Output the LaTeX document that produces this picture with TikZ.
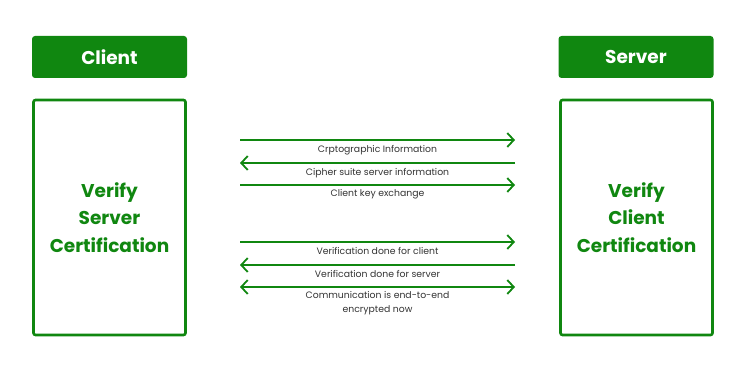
\documentclass[tikz,border=0pt]{standalone}
\usepackage{fontspec}
\setmainfont{Poppins}
\usepackage{tikz}
\usetikzlibrary{positioning, arrows.meta, calc}
\definecolor{primary}{RGB}{16,135,16}
\tikzset{
  header/.style={
    rectangle, rounded corners=3pt, fill=primary, draw=none,
    minimum width=155pt, minimum height=42pt, inner sep=0pt,
    text=white, font=\fontsize{18.5}{22}\selectfont\bfseries
  },
  party/.style={
    rectangle, rounded corners=2pt, draw=primary, line width=2.6pt, fill=white,
    minimum width=152pt, minimum height=235pt, inner sep=0pt,
    align=center, text=primary, font=\fontsize{18.5}{27.5}\selectfont\bfseries
  },
  tip/.tip={Straight Barb[length=6.5pt,width=14pt,line width=1.8pt]},
  msg/.style={draw=primary, line width=1.8pt, -tip},
  both/.style={draw=primary, line width=1.8pt, tip-tip},
  msg label/.style={font=\fontsize{9.3}{14}\selectfont, text=black!80, inner sep=0pt, align=center, below=4pt},
}
\begin{document}
\begin{tikzpicture}[x=1pt, y=-1pt]
  \useasboundingbox (0,0) rectangle (735,377);

  % parties
  \node[header] (client) at (109.5,57) {Client};
  \node[header] (server) at (636,57) {Server};
  \node[party] (clientbox) at (109.5,217.5) {Verify\\Server\\Certification};
  \node[party] (serverbox) at (636.5,217.5) {Verify\\Client\\Certification};

  % end points of the messages
  \foreach \i/\y in {1/140, 2/163, 3/185, 4/242, 5/265, 6/287} {
    \coordinate (L\i) at (240,\y);
    \coordinate (R\i) at (515,\y);
  }

  % handshake
  \draw[msg] (L1) -- node[msg label] {Crptographic Information} (R1);
  \draw[msg] (R2) -- node[msg label] {Cipher suite server information} (L2);
  \draw[msg] (L3) -- node[msg label] {Client key exchange} (R3);

  % verification
  \draw[msg] (L4) -- node[msg label] {Verification done for client} (R4);
  \draw[msg] (R5) -- node[msg label] {Verification done for server} (L5);
  \draw[both] (L6) -- node[msg label] {Communication is end-to-end\\encrypted now} (R6);
\end{tikzpicture}
\end{document}
